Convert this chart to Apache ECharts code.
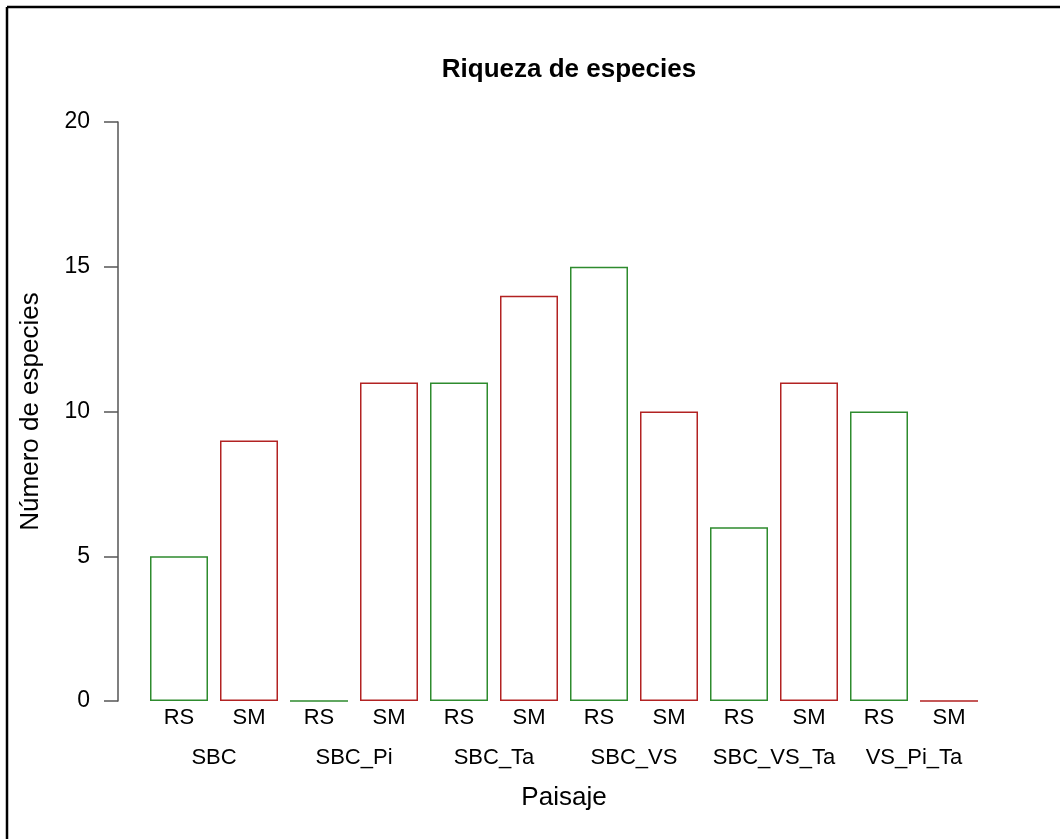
<!DOCTYPE html>
<html>
<head>
<meta charset="utf-8">
<script src="https://cdn.jsdelivr.net/npm/echarts@6/dist/echarts.min.js"></script>
<style>
  html, body { margin: 0; padding: 0; background: #ffffff; }
  #chart { width: 1060px; height: 839px; }
</style>
</head>
<body>
<div id="chart"></div>
<script>
// Landscapes (paisajes) and species richness per sampling method
const paisajes = ['SBC', 'SBC_Pi', 'SBC_Ta', 'SBC_VS', 'SBC_VS_Ta', 'VS_Pi_Ta'];
const metodos = ['RS', 'SM'];
const valoresRS = [5, 0, 11, 15, 6, 10];
const valoresSM = [9, 11, 14, 10, 11, 0];
const coloresMetodo = ['#2E8B2E', '#B22222'];
const yTicks = [0, 5, 10, 15, 20];

const FONT = '"Liberation Sans", Arial, sans-serif';

// one bar per landscape/method pair, RS first then SM
const barCats = [];
const barData = [];
paisajes.forEach((p, i) => {
  [valoresRS[i], valoresSM[i]].forEach((v, j) => {
    barCats.push(metodos[j]);
    barData.push({
      value: v,
      itemStyle: { color: '#ffffff', borderColor: coloresMetodo[j], borderWidth: 1.5 }
    });
  });
});

const chart = echarts.init(document.getElementById('chart'), null, { renderer: 'canvas' });

chart.setOption({
  backgroundColor: '#ffffff',
  animation: false,
  title: {
    text: 'Riqueza de especies',
    left: 564,
    top: 52,
    textAlign: 'center',
    textStyle: { fontFamily: FONT, fontSize: 26, fontWeight: 'bold', color: '#000' }
  },
  grid: { left: 144, width: 840, top: 122, height: 579, containLabel: false },
  xAxis: [
    {
      type: 'category',
      data: barCats,
      position: 'bottom',
      axisLine: { show: false },
      axisTick: { show: false },
      axisLabel: { interval: 0, margin: 6, fontFamily: FONT, fontSize: 22, color: '#000' }
    },
    {
      type: 'category',
      data: paisajes,
      position: 'bottom',
      offset: 40,
      axisLine: { show: false },
      axisTick: { show: false },
      axisLabel: { interval: 0, margin: 6, fontFamily: FONT, fontSize: 22, color: '#000' },
      name: 'Paisaje',
      nameLocation: 'middle',
      nameGap: 44,
      nameTextStyle: { fontFamily: FONT, fontSize: 26, color: '#000' }
    }
  ],
  yAxis: {
    type: 'value',
    min: yTicks[0],
    max: yTicks[yTicks.length - 1],
    interval: 5,
    offset: 26,
    axisLine: { show: true, lineStyle: { color: '#555', width: 1.5 } },
    axisTick: { show: true, length: 14, lineStyle: { color: '#555', width: 1.5 } },
    axisLabel: { margin: 28, fontFamily: FONT, fontSize: 23, color: '#000' },
    splitLine: { show: false },
    name: 'Número de especies',
    nameLocation: 'middle',
    nameGap: 74,
    nameTextStyle: { fontFamily: FONT, fontSize: 26, color: '#000' }
  },
  series: [
    {
      type: 'bar',
      xAxisIndex: 0,
      data: barData,
      barWidth: 58
    }
  ],
  graphic: [
    { type: 'line', shape: { x1: 7, y1: 7, x2: 1060, y2: 7 }, style: { stroke: '#000', lineWidth: 2.5 } },
    { type: 'line', shape: { x1: 7, y1: 7, x2: 7, y2: 839 }, style: { stroke: '#000', lineWidth: 2.5 } }
  ]
});
</script>
</body>
</html>
